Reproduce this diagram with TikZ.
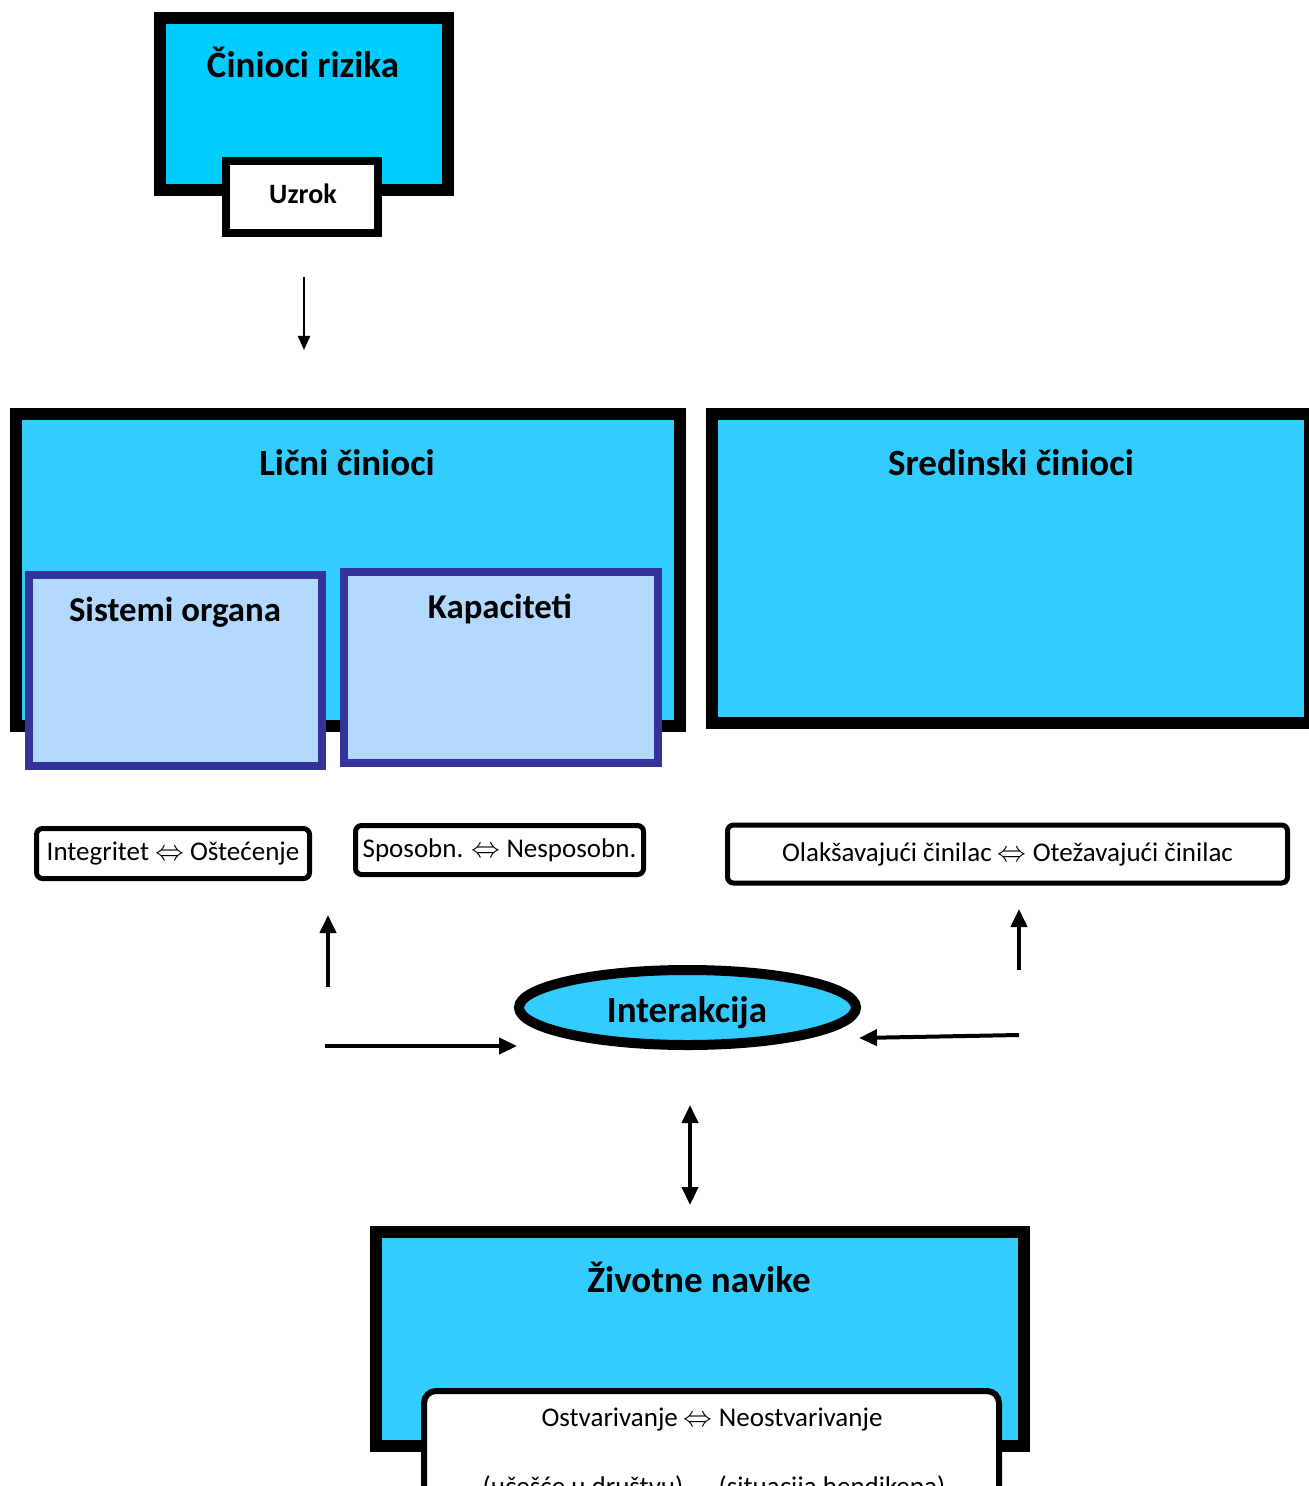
\documentclass[tikz,border=0pt]{standalone}
\usepackage{fontspec}
\setmainfont{Carlito}
\usepackage{tikz}
\usetikzlibrary{shapes.geometric,arrows.meta}

\definecolor{cyanA}{RGB}{0,204,255}
\definecolor{cyanB}{RGB}{51,204,255}
\definecolor{svplava}{RGB}{179,217,255}
\definecolor{tplava}{RGB}{51,51,153}

\tikzset{
  velika/.style={rectangle, draw=black, line width=6pt, fill=cyanB, inner sep=0pt},
  unutra/.style={rectangle, draw=tplava, line width=4pt, fill=svplava, inner sep=0pt},
  oznaka/.style={rectangle, rounded corners=3pt, draw=black, line width=2.5pt, fill=white, inner sep=0pt, font=\fontsize{13.5}{16}\selectfont},
  naslov/.style={font=\bfseries\fontsize{18.5}{22}\selectfont, inner sep=0pt},
  podnaslov/.style={font=\bfseries\fontsize{17.4}{21}\selectfont, inner sep=0pt},
  tekst/.style={font=\fontsize{13.5}{16}\selectfont, inner sep=0pt},
  strelica/.style={line width=2pt, -{Triangle[width=8pt,length=9pt]}},
}

\begin{document}
\begin{tikzpicture}[x=0.5pt, y=-0.5pt]
    	\useasboundingbox (0, 0) rectangle (1308, 1486);
    	% Boxes:
    	\node[velika, fill=cyanA, minimum width=144pt, minimum height=86pt] (rizika) at (304, 104) {};
    	\node[naslov] (rizikaT) at (303, 62) {Činioci rizika};
    	\node[rectangle, draw=black, line width=4pt, fill=white, minimum width=76pt, minimum height=36pt] (uzrok) at (302, 197) {};
    	\node[font=\bfseries\fontsize{14}{17}\selectfont, inner sep=0pt] (uzrokT) at (303, 194) {Uzrok};
    	\node[velika, minimum width=332pt, minimum height=156pt] (licni) at (348, 570) {};
    	\node[naslov] (licniT) at (347, 463) {Lični činioci};
    	\node[unutra, minimum width=146.5pt, minimum height=95.5pt] (sistemi) at (175.5, 670.5) {};
    	\node[podnaslov] (sistemiT) at (175, 612) {Sistemi organa};
    	\node[unutra, minimum width=157pt, minimum height=95.5pt] (kapaciteti) at (501, 667.5) {};
    	\node[podnaslov] (kapacitetiT) at (500, 609) {Kapaciteti};
    	\node[velika, minimum width=299pt, minimum height=154.5pt] (sredinski) at (1011, 568.5) {};
    	\node[naslov] (sredinskiT) at (1011, 463) {Sredinski činioci};
    	% Labels:
    	\node[oznaka, minimum width=136.5pt, minimum height=25pt] (integritet) at (173, 853.5) {Integritet $\Leftrightarrow$ Oštećenje};
    	\node[oznaka, minimum width=144pt, minimum height=24.5pt] (sposobn) at (499.5, 850) {Sposobn. $\Leftrightarrow$ Nesposobn.};
    	\node[oznaka, minimum width=280pt, minimum height=29pt] (olaksav) at (1007.5, 854) {Olakšavajući činilac $\Leftrightarrow$ Otežavajući činilac};
    	\node[ellipse, draw=black, line width=5pt, fill=cyanB, minimum width=168.5pt, minimum height=37.5pt, inner sep=0pt] (interakcija) at (687.5, 1007.5) {};
    	\node[naslov] (interakcijaT) at (687, 1013) {Interakcija};
    	\node[velika, minimum width=324pt, minimum height=107pt] (zivotne) at (700, 1339) {};
    	\node[naslov] (zivotneT) at (699, 1277) {Životne navike};
    	\node[rectangle, rounded corners=6pt, draw=black, line width=3pt, fill=white, minimum width=287.5pt, minimum height=64.5pt, inner sep=0pt] (ostvar) at (711.5, 1455.5) {};
    	\node[tekst] (ostvarT) at (712, 1420) {Ostvarivanje $\Leftrightarrow$ Neostvarivanje};
    	\node[tekst, anchor=base] (ucesce) at (583, 1495) {(učešće u društvu)};
    	\node[tekst, anchor=base] (hendikep) at (832, 1495) {(situacija hendikepa)};
    	% Arrows:
    	\coordinate (a1) at (304, 277);
    	\coordinate (a2) at (304, 350);
    	\coordinate (b1) at (328, 987);
    	\coordinate (b2) at (328, 915);
    	\coordinate (c1) at (1019, 970);
    	\coordinate (c2) at (1019, 909);
    	\coordinate (d1) at (325, 1046);
    	\coordinate (d2) at (517, 1046);
    	\coordinate (e1) at (1019, 1035);
    	\coordinate (e2) at (859, 1038);
    	\coordinate (f1) at (690, 1105);
    	\coordinate (f2) at (690, 1205);
    	\draw[line width=1pt, -{Triangle[width=6pt,length=7pt]}] (a1) -- (a2);
    	\draw[strelica] (b1) -- (b2);
    	\draw[strelica] (c1) -- (c2);
    	\draw[strelica] (d1) -- (d2);
    	\draw[strelica] (e1) -- (e2);
    	\draw[strelica, {Triangle[width=8pt,length=9pt]}-{Triangle[width=8pt,length=9pt]}] (f1) -- (f2);
    \end{tikzpicture}
\end{document}
